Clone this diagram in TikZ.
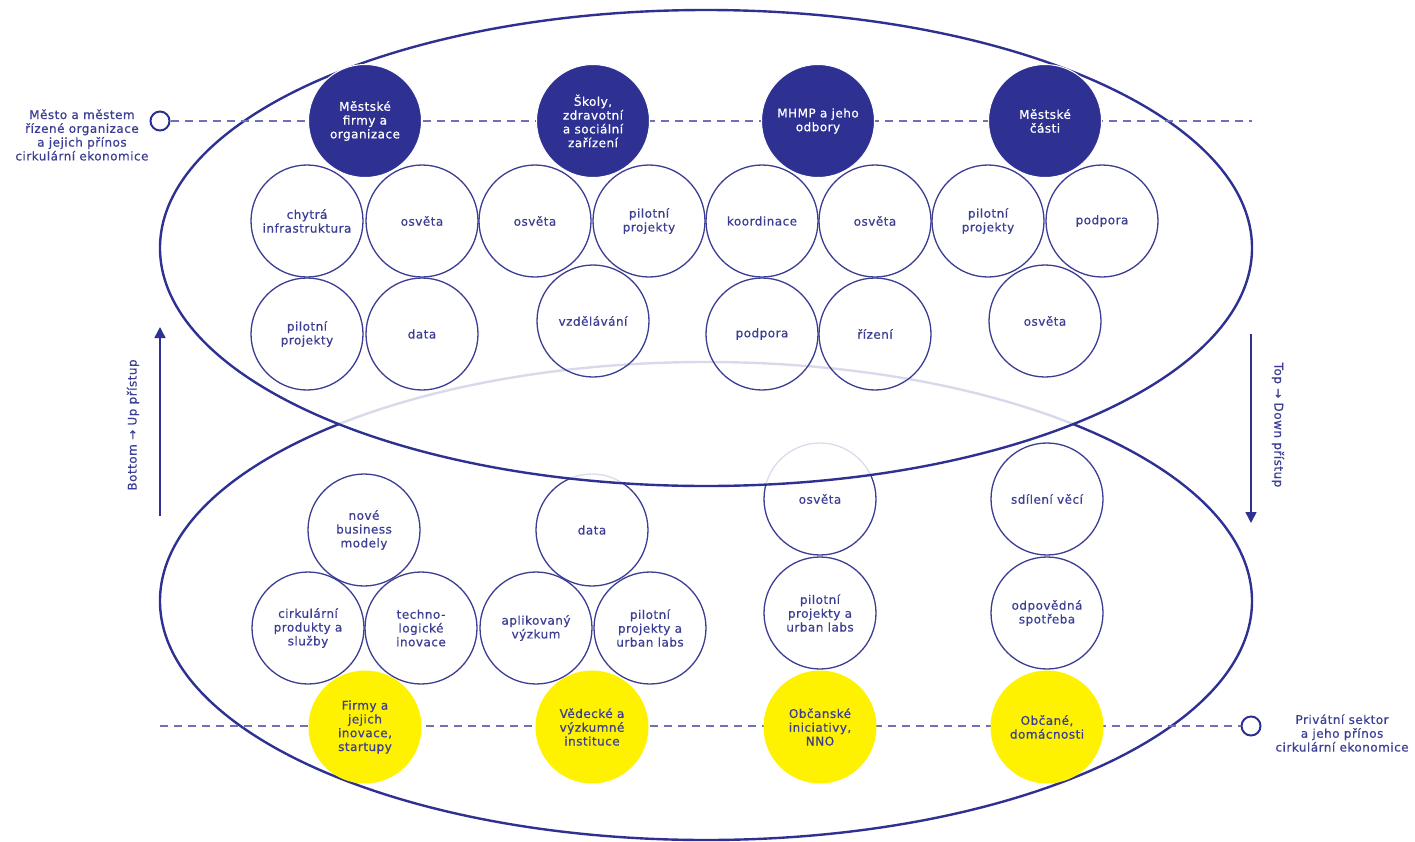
\documentclass[tikz,border=0pt]{standalone}
\usepackage{fontspec}
\setmainfont{DejaVu Sans}[LetterSpace=4, FakeBold=0.6]
\usetikzlibrary{arrows.meta}
\definecolor{navy}{HTML}{2E3192}
\definecolor{ink}{HTML}{3B3E93}
\definecolor{dash}{HTML}{6E70B8}
\definecolor{yel}{HTML}{FFF200}
\tikzset{
  txt/.style={font=\fontsize{12}{13.8}\selectfont, text=ink, align=center},
  oc/.style={circle, draw=ink, line width=1.3pt, minimum size=112pt, inner sep=0pt, txt},
  dc/.style={circle, fill=navy, draw=white, line width=1pt, minimum size=113pt, inner sep=0pt, txt, text=white},
  yc/.style={circle, fill=yel, minimum size=113pt, inner sep=0pt, txt},
  bigell/.style={draw=navy, line width=2.4pt},
  dline/.style={draw=dash, line width=1.4pt, dash pattern=on 8pt off 6pt},
  endc/.style={circle, draw=navy, fill=white, line width=2pt, minimum size=19pt, inner sep=0pt},
  arr/.style={draw=navy, line width=1.6pt, -{Triangle[length=11pt,width=11pt]}},
  side/.style={font=\fontsize{12}{13.8}\selectfont, text=ink, align=center},
}
\begin{document}
\begin{tikzpicture}[x=1pt,y=-1pt]
\useasboundingbox (0,0) rectangle (1415,841);
% bottom ellipse
\draw[bigell] (706,601) ellipse [x radius=546, y radius=239];
\coordinate (bl) at (160,726);
\node[endc] (br) at (1251,726) {};
\draw[dline] (bl) -- (br);
% bottom outline circles
\node[oc] (b1) at (364,530) {nové\\business\\modely};
\node[oc] (b2) at (308,628) {cirkulární\\produkty a\\služby};
\node[oc] (b3) at (421,628) {techno-\\logické\\inovace};
\node[oc] (b4) at (592,530) {data};
\node[oc] (b5) at (536,628) {aplikovaný\\výzkum};
\node[oc] (b6) at (650,628) {pilotní\\projekty a\\urban labs};
\node[oc] (b7) at (820,499) {osvěta};
\node[oc] (b8) at (820,613) {pilotní\\projekty a\\urban labs};
\node[oc] (b9) at (1047,499) {sdílení věcí};
\node[oc] (b10) at (1047,613) {odpovědná\\spotřeba};
% yellow
\node[yc] (y1) at (365,727) {Firmy a\\jejich\\inovace,\\startupy};
\node[yc] (y2) at (592,727) {Vědecké a\\výzkumné\\instituce};
\node[yc] (y3) at (820,727) {Občanské\\iniciativy,\\NNO};
\node[yc] (y4) at (1047,727) {Občané,\\domácnosti};
% top ellipse
\fill[white, opacity=0.82] (706,248) ellipse [x radius=546, y radius=238];
\draw[bigell] (706,248) ellipse [x radius=546, y radius=238];
\node[endc] (tl) at (160,121) {};
\coordinate (tr) at (1252,121);
\draw[dline] (tl) -- (tr);
% top outline circles
\node[oc] (t1) at (307,221) {chytrá\\infrastruktura};
\node[oc] (t2) at (422,221) {osvěta};
\node[oc] (t3) at (535,221) {osvěta};
\node[oc] (t4) at (649,221) {pilotní\\projekty};
\node[oc] (t5) at (762,221) {koordinace};
\node[oc] (t6) at (875,221) {osvěta};
\node[oc] (t7) at (988,221) {pilotní\\projekty};
\node[oc] (t8) at (1102,221) {podpora};
\node[oc] (t9) at (307,334) {pilotní\\projekty};
\node[oc] (t10) at (422,334) {data};
\node[oc] (t11) at (593,321) {vzdělávání};
\node[oc] (t12) at (762,334) {podpora};
\node[oc] (t13) at (875,334) {řízení};
\node[oc] (t14) at (1045,321) {osvěta};
% dark
\node[dc] (d1) at (365,121) {Městské\\firmy a\\organizace};
\node[dc] (d2) at (593,121) {Školy,\\zdravotní\\a sociální\\zařízení};
\node[dc] (d3) at (818,121) {MHMP a jeho\\odbory};
\node[dc] (d4) at (1045,121) {Městské\\části};
% side labels
\node[side, anchor=east] (ll) at (152,135) {Město a městem\\řízené organizace\\a jejich přínos\\cirkulární ekonomice};
\node[side, anchor=west] (rl) at (1272,733) {Privátní sektor\\a jeho přínos\\cirkulární ekonomice};
% arrows
\coordinate (a1s) at (160,516);
\coordinate (a1e) at (160,327);
\draw[arr] (a1s) -- (a1e);
\node[side, rotate=90] (al) at (133,425) {Bottom → Up přístup};
\coordinate (a2s) at (1251,334);
\coordinate (a2e) at (1251,523);
\draw[arr] (a2s) -- (a2e);
\node[side, rotate=-90] (ar) at (1278,425) {Top → Down přístup};
\end{tikzpicture}
\end{document}
